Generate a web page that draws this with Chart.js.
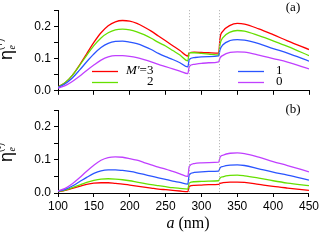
<!DOCTYPE html>
<html>
<head>
<meta charset="utf-8">
<script src="https://cdn.jsdelivr.net/npm/chart.js@4.4.1/dist/chart.umd.min.js"></script>
<style>
  html, body { margin: 0; padding: 0; background: #fff; overflow: hidden; }
  #wrap { position: relative; width: 319px; height: 240px; overflow: hidden; }
  canvas { position: absolute; left: 0; }
</style>
</head>
<body>
<div id="wrap">
  <canvas id="chartA" width="319" height="101" style="top:0"></canvas>
  <canvas id="chartB" width="321" height="140" style="top:100px"></canvas>
</div>
<script>
// a (nm) sampled along the curves, the two jumps sit at ~282 and ~325
const aNm = [100, 110, 120, 130, 140, 150, 160, 170, 180, 190, 200, 210, 220, 230, 240, 250, 260, 270, 281,
  283, 290, 300, 310, 324, 326, 330, 340, 350, 360, 380, 400, 420, 450];
const boundaries = [282, 325];
const xTicks = [100, 150, 200, 250, 300, 350, 400, 450];
const yTicks = [0.0, 0.1, 0.2];

// panel (a): eta_e^(+)
const plusM3 = [0.012, 0.025, 0.048, 0.080, 0.115, 0.150, 0.180, 0.202, 0.214, 0.218, 0.216, 0.209, 0.198, 0.185, 0.170, 0.155, 0.140, 0.125, 0.108,
  0.118, 0.120, 0.119, 0.118, 0.117, 0.165, 0.185, 0.203, 0.209, 0.207, 0.192, 0.174, 0.155, 0.128];
const plusM2 = [0.012, 0.026, 0.048, 0.078, 0.110, 0.140, 0.164, 0.180, 0.189, 0.191, 0.189, 0.183, 0.174, 0.163, 0.150, 0.139, 0.125, 0.111, 0.093,
  0.118, 0.118, 0.116, 0.114, 0.111, 0.145, 0.165, 0.182, 0.187, 0.185, 0.171, 0.155, 0.138, 0.109];
const plusM1 = [0.010, 0.022, 0.040, 0.064, 0.090, 0.114, 0.134, 0.147, 0.153, 0.154, 0.151, 0.146, 0.138, 0.128, 0.116, 0.106, 0.097, 0.087, 0.074,
  0.097, 0.103, 0.105, 0.106, 0.108, 0.128, 0.143, 0.156, 0.159, 0.157, 0.146, 0.131, 0.117, 0.092];
const plusM0 = [0.008, 0.016, 0.029, 0.045, 0.063, 0.080, 0.095, 0.105, 0.109, 0.109, 0.107, 0.103, 0.097, 0.090, 0.082, 0.075, 0.068, 0.061, 0.053,
  0.075, 0.082, 0.085, 0.087, 0.090, 0.102, 0.110, 0.119, 0.121, 0.120, 0.111, 0.100, 0.089, 0.068];

// panel (b): eta_e^(-)
const minusM3 = [0.004, 0.008, 0.014, 0.020, 0.026, 0.030, 0.031, 0.031, 0.029, 0.027, 0.024, 0.021, 0.018, 0.015, 0.012, 0.010, 0.008, 0.006, 0.004,
  0.020, 0.023, 0.024, 0.025, 0.026, 0.029, 0.031, 0.033, 0.033, 0.032, 0.026, 0.020, 0.015, 0.008];
const minusM2 = [0.004, 0.009, 0.016, 0.024, 0.032, 0.038, 0.042, 0.043, 0.042, 0.040, 0.037, 0.033, 0.029, 0.025, 0.022, 0.019, 0.016, 0.014, 0.012,
  0.030, 0.034, 0.035, 0.036, 0.037, 0.045, 0.049, 0.053, 0.054, 0.052, 0.045, 0.037, 0.030, 0.022];
const minusM1 = [0.005, 0.011, 0.021, 0.034, 0.047, 0.059, 0.067, 0.070, 0.070, 0.068, 0.065, 0.061, 0.056, 0.051, 0.046, 0.041, 0.036, 0.032, 0.027,
  0.055, 0.062, 0.064, 0.065, 0.066, 0.076, 0.080, 0.084, 0.085, 0.083, 0.073, 0.063, 0.054, 0.039];
const minusM0 = [0.006, 0.014, 0.028, 0.046, 0.066, 0.084, 0.099, 0.107, 0.109, 0.108, 0.104, 0.099, 0.092, 0.085, 0.078, 0.072, 0.065, 0.058, 0.050,
  0.080, 0.089, 0.091, 0.092, 0.093, 0.108, 0.114, 0.120, 0.121, 0.119, 0.108, 0.095, 0.083, 0.064];

const colors = { m3: '#ff0000', m2: '#66e000', m1: '#2a55ff', m0: '#c040ff' };

function pts(arr) {
  return aNm.map((x, i) => ({ x: x, y: arr[i] }));
}

function series(arr, color) {
  return {
    data: pts(arr),
    borderColor: color,
    borderWidth: 1.3,
    pointRadius: 0,
    fill: false,
    cubicInterpolationMode: 'monotone',
  };
}

// dotted boundaries, legend, panel letter and titles
const decoPlugin = {
  id: 'deco',
  afterDatasetsDraw(chart, args, opts) {
    const ctx = chart.ctx;
    const area = chart.chartArea;
    const xs = chart.scales.x;
    ctx.save();
    ctx.strokeStyle = '#aaaaaa';
    ctx.lineWidth = 1;
    ctx.setLineDash([1, 2]);
    boundaries.forEach(function (b) {
      const px = Math.round(xs.getPixelForValue(b)) + 0.5;
      ctx.beginPath();
      ctx.moveTo(px, area.top);
      ctx.lineTo(px, area.bottom);
      ctx.stroke();
    });
    ctx.setLineDash([]);

    ctx.fillStyle = '#000';
    ctx.font = '13px "Liberation Serif", "Times New Roman", serif';
    ctx.textAlign = 'center';
    ctx.textBaseline = 'middle';
    ctx.fillText(opts.letter, 293, opts.letterY);

    if (opts.legend) {
      const items = [
        { c: colors.m3, x: 92, y: 71, t: '=3', m: true },
        { c: colors.m2, x: 92, y: 82, t: '2' },
        { c: colors.m1, x: 238, y: 71, t: '1' },
        { c: colors.m0, x: 238, y: 82, t: '0' },
      ];
      ctx.lineWidth = 1.3;
      ctx.textAlign = 'left';
      items.forEach(function (it) {
        ctx.strokeStyle = it.c;
        ctx.beginPath();
        ctx.moveTo(it.x, it.y + 0.5);
        ctx.lineTo(it.x + 26, it.y + 0.5);
        ctx.stroke();
        if (it.m) {
          ctx.font = 'italic 13px "Liberation Serif", serif';
          ctx.fillText("M'", 126, it.y);
          const w = ctx.measureText("M'").width;
          ctx.font = '13px "Liberation Serif", serif';
          ctx.fillText(it.t, 126 + w, it.y);
        } else {
          ctx.font = '13px "Liberation Serif", serif';
          ctx.fillText(it.t, it.x === 92 ? 147 : 276, it.y);
        }
      });
    }

    // y title: eta_e^(sign), rotated
    ctx.fillStyle = '#000';
    ctx.translate(12, opts.titleY);
    ctx.rotate(-Math.PI / 2);
    ctx.textAlign = 'left';
    ctx.textBaseline = 'alphabetic';
    ctx.font = '18px "Liberation Sans", Arial, sans-serif';
    ctx.fillText('η', 0, 0);
    const ew = ctx.measureText('η').width;
    ctx.font = 'italic 10px "Liberation Serif", serif';
    ctx.fillText('e', ew + 0.5, 3);
    ctx.font = '9px "Liberation Sans", Arial, sans-serif';
    ctx.fillText('(' + opts.sign + ')', ew, -9);
    ctx.restore();

    if (opts.xTitle) {
      ctx.save();
      ctx.fillStyle = '#000';
      ctx.textBaseline = 'alphabetic';
      ctx.textAlign = 'left';
      ctx.font = 'italic 16px "Liberation Serif", serif';
      const w1 = ctx.measureText('a').width;
      ctx.font = '16px "Liberation Serif", serif';
      const w2 = ctx.measureText(' (nm)').width;
      const x0 = 188 - (w1 + w2) / 2;
      ctx.font = 'italic 16px "Liberation Serif", serif';
      ctx.fillText('a', x0, 128);
      ctx.font = '16px "Liberation Serif", serif';
      ctx.fillText(' (nm)', x0 + w1, 128);
      ctx.restore();
    }
  },
};

function makeChart(id, sets, showX, xHeight, padTop, deco) {
  const ctx = document.getElementById(id).getContext('2d');
  return new Chart(ctx, {
    type: 'line',
    data: { datasets: sets },
    plugins: [decoPlugin],
    options: {
      responsive: false,
      animation: false,
      devicePixelRatio: 1,
      layout: { padding: { top: padTop, right: 10, left: 0, bottom: 0 } },
      plugins: { legend: { display: false }, tooltip: { enabled: false }, deco: deco },
      scales: {
        x: {
          type: 'linear',
          min: 100,
          max: 450,
          afterBuildTicks: function (s) { s.ticks = xTicks.map(v => ({ value: v })); },
          afterFit: function (s) { s.height = xHeight; },
          grid: { drawOnChartArea: false, drawTicks: true, tickLength: 4, color: '#000' },
          border: { display: true, color: '#000', width: 1 },
          ticks: {
            display: showX,
            maxRotation: 0,
            autoSkip: false,
            padding: 2,
            color: '#000',
            font: { family: '"Liberation Sans", Arial, sans-serif', size: 12 },
          },
        },
        y: {
          min: 0,
          max: 0.25,
          afterBuildTicks: function (s) {
            s.ticks = [0, 0.05, 0.1, 0.15, 0.2, 0.25].map(v => ({ value: v }));
          },
          afterFit: function (s) { s.width = 58; },
          grid: { drawOnChartArea: false, drawTicks: true, tickLength: 4, color: '#000' },
          border: { display: true, color: '#000', width: 1 },
          ticks: {
            autoSkip: false,
            padding: 3,
            color: '#000',
            font: { family: '"Liberation Sans", Arial, sans-serif', size: 12 },
            callback: function (v) {
              const hit = yTicks.find(t => Math.abs(t - v) < 1e-6);
              return hit === undefined ? '' : hit.toFixed(1);
            },
          },
        },
      },
    },
  });
}

makeChart('chartA', [
  series(plusM0, colors.m0),
  series(plusM1, colors.m1),
  series(plusM2, colors.m2),
  series(plusM3, colors.m3),
], false, 9, 1, { letter: '(a)', letterY: 8, legend: true, sign: '+', titleY: 60 });

makeChart('chartB', [
  series(minusM0, colors.m0),
  series(minusM1, colors.m1),
  series(minusM2, colors.m2),
  series(minusM3, colors.m3),
], true, 47, 3, { letter: '(b)', letterY: 10, legend: false, sign: '-', titleY: 62, xTitle: true });
</script>
</body>
</html>
